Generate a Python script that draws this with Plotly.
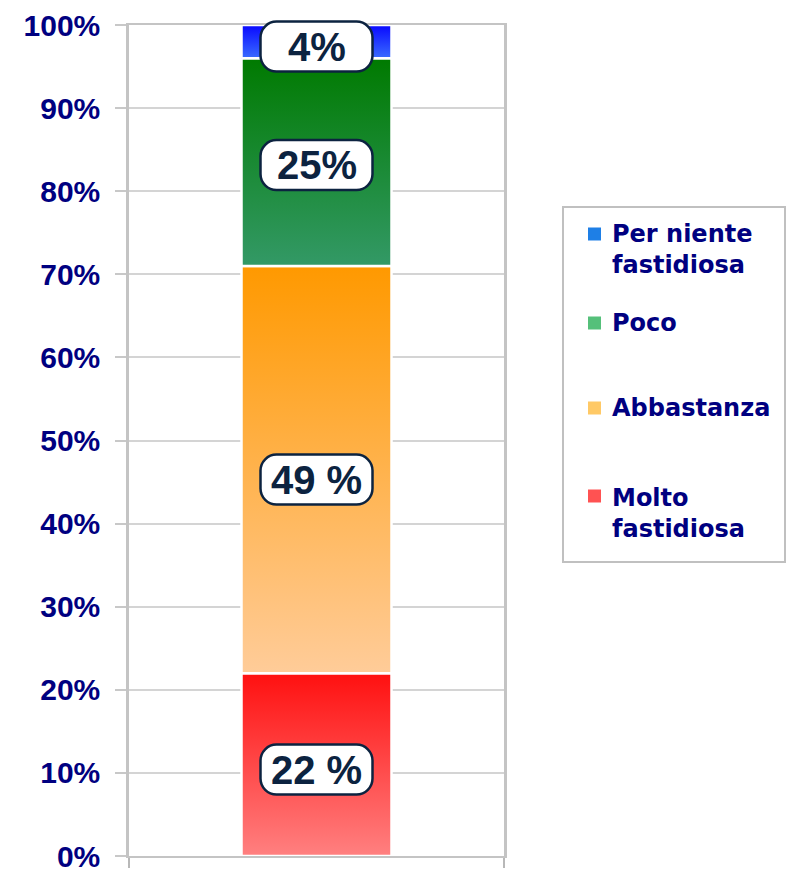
import plotly.graph_objects as go

# ---- data ----
categories = ["Molto fastidiosa", "Abbastanza", "Poco", "Per niente fastidiosa"]
values = [22, 49, 25, 4]
label_texts = ["22 %", "49 %", "25%", "4%"]
legend_labels = ["Molto<br>fastidiosa", "Abbastanza", "Poco", "Per niente<br>fastidiosa"]
tick_vals = [0, 10, 20, 30, 40, 50, 60, 70, 80, 90, 100]
tick_text = ["0%", "10%", "20%", "30%", "40%", "50%", "60%", "70%", "80%", "90%", "100%"]
Y_RANGE = [0, 100]

# ---- styles ----
grad_bottom = ["#ff8080", "#ffcc99", "#339966", "#3a6cff"]
grad_top = ["#ff1010", "#ff9900", "#007a00", "#0808ff"]
legend_colors = ["#ff5252", "#ffc966", "#55c07a", "#1e7fe6"]
label_shifts = [-5, -10, -3, -5]
NAVY = "#000080"
LABEL_NAVY = "#0c2340"
BAR_HALF = 0.2

W, H = 789, 869
ML, MR, MT, MB = 129, 285, 25, 13
PW, PH = W - ML - MR, H - MT - MB


def px_x(p):
    return (p - ML) / PW


def px_y(p):
    return (H - MB - p) / PH


def pill_path(hw, hh, r, s):
    k = r * 0.5523
    return (
        f"M {-hw + r},{-hh + s} L {hw - r},{-hh + s} "
        f"C {hw - r + k},{-hh + s} {hw},{-hh + r - k + s} {hw},{-hh + r + s} "
        f"L {hw},{hh - r + s} "
        f"C {hw},{hh - r + k + s} {hw - r + k},{hh + s} {hw - r},{hh + s} "
        f"L {-hw + r},{hh + s} "
        f"C {-hw + r - k},{hh + s} {-hw},{hh - r + k + s} {-hw},{hh - r + s} "
        f"L {-hw},{-hh + r + s} "
        f"C {-hw},{-hh + r - k + s} {-hw + r - k},{-hh + s} {-hw + r},{-hh + s} Z"
    )


fig = go.Figure()

cum = 0
mids = []
for cat, v, cb, ct in zip(categories, values, grad_bottom, grad_top):
    y0, y1 = cum, cum + v
    fig.add_trace(go.Scatter(
        x=[-BAR_HALF, BAR_HALF, BAR_HALF, -BAR_HALF, -BAR_HALF],
        y=[y0, y0, y1, y1, y0],
        fill="toself",
        fillgradient=dict(type="vertical", colorscale=[[0, cb], [1, ct]], start=y0, stop=y1),
        mode="lines",
        line=dict(color="white", width=2.5),
        name=cat,
        showlegend=False,
        hoverinfo="skip",
    ))
    mids.append(cum + v / 2)
    cum += v

# rounded label boxes + text
for m, t, s in zip(mids, label_texts, label_shifts):
    frac = (m - Y_RANGE[0]) / (Y_RANGE[1] - Y_RANGE[0])
    fig.add_shape(dict(
        type="path", path=pill_path(56, 25, 16, s),
        xref="paper", yref="paper", xsizemode="pixel", ysizemode="pixel",
        xanchor=0.5, yanchor=frac,
        line=dict(color=LABEL_NAVY, width=2.5),
        fillcolor="white", layer="above",
    ))
    fig.add_annotation(
        x=0, y=m, xref="x", yref="y", text=t, showarrow=False, yshift=s,
        font=dict(family="Liberation Sans", size=40, color=LABEL_NAVY, weight="bold"),
        xanchor="center", yanchor="middle",
    )

# legend (manual)
fig.add_shape(type="rect", xref="paper", yref="paper",
              x0=px_x(563), x1=px_x(785), y0=px_y(562), y1=px_y(207),
              line=dict(color="#c0c0c0", width=2), fillcolor="white", layer="below")
legend_centers = [513, 408, 323, 250]
legend_first_line = [496, 408, 323, 234]
for lab, col, c, f in zip(legend_labels, legend_colors, legend_centers, legend_first_line):
    fig.add_shape(type="rect", xref="paper", yref="paper",
                  x0=px_x(588), x1=px_x(601), y0=px_y(f + 6.5), y1=px_y(f - 6.5),
                  line=dict(width=0), fillcolor=col)
    fig.add_annotation(
        x=px_x(610), y=px_y(c), xref="paper", yref="paper", text=lab, showarrow=False,
        xanchor="left", yanchor="middle", align="left",
        font=dict(family="DejaVu Sans", size=24, color=NAVY, weight="bold"),
    )

fig.update_layout(
    width=W, height=H,
    margin=dict(l=ML, r=MR, t=MT, b=MB),
    plot_bgcolor="white", paper_bgcolor="white",
    showlegend=False,
    xaxis=dict(range=[-0.5, 0.5], tickvals=[-0.5, 0.5], ticktext=["", ""],
               ticks="outside", ticklen=10, tickcolor="#b8b8b8", tickwidth=2,
               showgrid=False, zeroline=False, showline=True, linecolor="#c4c4c4",
               linewidth=2, mirror=True, fixedrange=True, automargin=False),
    yaxis=dict(range=Y_RANGE, tickvals=tick_vals, ticktext=tick_text,
               ticks="outside", ticklen=11, tickcolor="#c8c8c8", tickwidth=1.5,
               showgrid=True, gridcolor="#d4d4d4", gridwidth=1.5,
               zeroline=False, showline=True, linecolor="#c4c4c4", linewidth=2.5,
               mirror=True, ticklabelstandoff=9, automargin=False,
               ticklabeloverflow="allow",
               tickfont=dict(family="Liberation Sans", size=30, color=NAVY, weight="bold"),
               fixedrange=True),
)

fig.write_html(
    "out.html",
    config={"displayModeBar": False},
    post_script="document.body.style.margin='0';document.body.style.padding='0';",
)
